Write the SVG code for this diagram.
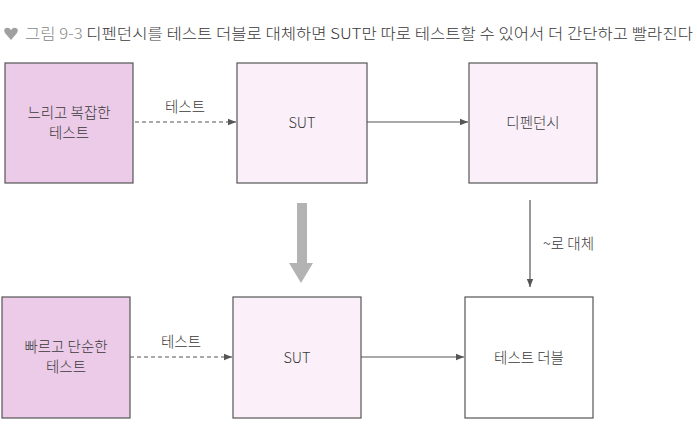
<svg xmlns="http://www.w3.org/2000/svg" width="697" height="430" viewBox="0 0 697 430">
<style>
text{font-family:"Noto Sans CJK KR","Noto Sans",sans-serif;fill:#3a3a3a;font-size:14.5px;font-weight:300}
.box{stroke:#555;stroke-width:1.2}
.strong{fill:#ebcbe8}
.light{fill:#fbf0fa}
.white{fill:#fff}
.edge{stroke:#555;stroke-width:1.2;fill:none}
.dash{stroke-dasharray:4 3}
</style>
<defs>
<marker id="ah" viewBox="0 0 10 10" refX="10" refY="5" markerWidth="10" markerHeight="8" markerUnits="userSpaceOnUse" orient="auto">
<path d="M0,1 L10,5 L0,9 z" fill="#555"/>
</marker>
</defs>
<rect width="697" height="430" fill="#fff"/>
<g id="title">
<path d="M11,40 L5,33 Q3,29 6,28 Q9,27 11,30 Q13,27 16,28 Q19,29 17,33 Z" fill="#a0a0a0"/>
<text x="25" y="39" font-size="16" fill="#555" textLength="668" lengthAdjust="spacingAndGlyphs"><tspan fill="#888">그림 9-3</tspan> 디펜던시를 테스트 더블로 대체하면 SUT만 따로 테스트할 수 있어서 더 간단하고 빨라진다</text>
</g>
<g id="slow-test">
<rect class="box strong" x="5" y="63" width="128" height="120"/>
<text x="69" y="118" text-anchor="middle">느리고 복잡한</text>
<text x="69" y="138" text-anchor="middle">테스트</text>
</g>
<g id="sut-top">
<rect class="box light" x="237" y="63" width="130" height="120"/>
<text x="302" y="128" text-anchor="middle">SUT</text>
</g>
<g id="dependency">
<rect class="box light" x="469" y="63" width="128" height="120"/>
<text x="533" y="128" text-anchor="middle">디펜던시</text>
</g>
<g id="fast-test">
<rect class="box strong" x="2" y="297" width="128" height="121"/>
<text x="66" y="352" text-anchor="middle">빠르고 단순한</text>
<text x="66" y="372" text-anchor="middle">테스트</text>
</g>
<g id="sut-bottom">
<rect class="box light" x="233" y="297" width="128" height="121"/>
<text x="297" y="363" text-anchor="middle">SUT</text>
</g>
<g id="test-double">
<rect class="box white" x="465" y="297" width="128" height="121"/>
<text x="529" y="363" text-anchor="middle">테스트 더블</text>
</g>
<g id="connectors">
<line class="edge dash" x1="135" y1="122" x2="236" y2="122" marker-end="url(#ah)"/>
<text x="185" y="112" text-anchor="middle">테스트</text>
<line class="edge" x1="367" y1="122" x2="468" y2="122" marker-end="url(#ah)"/>
<line class="edge dash" x1="130" y1="357" x2="232" y2="357" marker-end="url(#ah)"/>
<text x="181" y="347" text-anchor="middle">테스트</text>
<line class="edge" x1="361" y1="357" x2="464" y2="357" marker-end="url(#ah)"/>
<line class="edge" x1="530" y1="200" x2="530" y2="287" marker-end="url(#ah)"/>
<text x="543" y="249">~로 대체</text>
<path d="M297,203 L307,203 L307,263 L313,263 L301,283 L289,263 L297,263 Z" fill="#b3b3b3"/>
</g>
</svg>
